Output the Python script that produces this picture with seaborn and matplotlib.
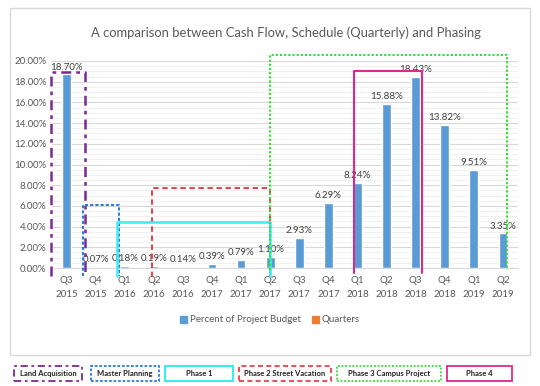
"""
Cash Flow / Schedule / Phasing 柱状图
"""
import matplotlib
matplotlib.use("Agg")
import matplotlib.pyplot as plt
import seaborn as sns
import pandas as pd
from matplotlib.patches import Patch, Rectangle
from matplotlib.ticker import MultipleLocator, FuncFormatter

# 数据
quarters = ["Q3\n2015", "Q4\n2015", "Q1\n2016", "Q2\n2016", "Q3\n2016", "Q4\n2017",
            "Q1\n2017", "Q2\n2017", "Q3\n2017", "Q4\n2017", "Q1\n2018", "Q2\n2018",
            "Q3\n2018", "Q4\n2018", "Q1\n2019", "Q2\n2019"]
percent_budget = [18.70, 0.07, 0.18, 0.19, 0.14, 0.39, 0.79, 1.10, 2.93, 6.29,
                  8.24, 15.88, 18.43, 13.82, 9.51, 3.35]
phase_names = ["Land Acquisition", "Master Planning", "Phase 1",
               "Phase 2 Street Vacation", "Phase 3 Campus Project", "Phase 4"]

# 阶段框样式: (x0, x1, top, bottom, color, linestyle, lw)
phase_boxes = [
    (-0.52, 0.62, 18.94, -0.8, "#7B2A93", (0, (4, 2, 1.5, 2)), 1.8),
    (0.58, 1.79, 6.06, -0.8, "#2E7BD6", (0, (1.5, 1)), 1.5),
    (2.92, 6.98, 7.69, -0.9, "#E8303A", (0, (3, 2)), 1.3),
    (1.75, 6.98, 4.42, -0.8, "#3DEDF0", "-", 1.8),
    (6.98, 15.14, 20.58, -0.2, "#33DD33", (0, (1, 1)), 1.5),
    (9.87, 12.21, 19.04, -0.5, "#E0288C", "-", 1.5),
]
# 底部图例框: (x0_px, x1_px, color, linestyle, lw)
legend_boxes = [
    (14, 82, "#7B2A93", (0, (4, 2, 1.5, 2)), 1.3),
    (91, 159, "#2E7BD6", (0, (1.5, 1)), 1.3),
    (165, 233, "#3DEDF0", "-", 1.5),
    (239, 331, "#E8303A", (0, (3, 2)), 1.2),
    (337, 441, "#33DD33", (0, (1, 1)), 1.3),
    (447, 512, "#E0288C", "-", 1.3),
]

W, H = 540, 386
sns.set_style("white")
plt.rcParams["font.family"] = ["Lato", "DejaVu Sans"]

fig = plt.figure(figsize=(W / 100, H / 100), dpi=100)
ax = fig.add_axes([52 / W, 1 - 268 / H, 465.5 / W, 207 / H])

# 季度标签有重复 (Q4 2017)，用序号作为类别
df = pd.DataFrame({"idx": range(len(quarters)), "Percent": percent_budget})
sns.barplot(data=df, x="idx", y="Percent", color="#5B9BD5", width=0.3,
            saturation=1, ax=ax, zorder=3)

ax.bar_label(ax.containers[0], labels=[f"{v:.2f}%" for v in percent_budget],
             padding=2, fontsize=7, color="#404040")

ax.set_xticks(range(len(quarters)))
ax.set_xticklabels(quarters, linespacing=1.7)
ax.set_xlim(-0.5, 15.5)
ax.set_ylim(0, 20)
ax.yaxis.set_major_locator(MultipleLocator(2))
ax.yaxis.set_minor_locator(MultipleLocator(0.5))
ax.yaxis.set_major_formatter(FuncFormatter(lambda v, p: f"{v:.2f}%"))
ax.grid(axis="y", which="major", color="#D9D9D9", lw=0.8, zorder=0)
ax.grid(axis="y", which="minor", color="#EFEFEF", lw=0.6, zorder=0)
ax.set_axisbelow(True)
ax.tick_params(axis="both", which="both", length=0, labelsize=7,
               labelcolor="#595959", pad=4)
ax.tick_params(axis="x", pad=6)
ax.set_xlabel("")
ax.set_ylabel("")
for s in ["left", "right", "top"]:
    ax.spines[s].set_visible(False)
ax.spines["bottom"].set_color("#D9D9D9")

# 阶段框
for x0, x1, top, bot, c, ls, lw in phase_boxes:
    ax.plot([x0, x0, x1, x1], [bot, top, top, bot], color=c, ls=ls, lw=lw,
            clip_on=False, zorder=4)

# 标题
fig.text(286 / W, 1 - 33 / H,
         "A comparison between Cash Flow, Schedule (Quarterly) and Phasing",
         ha="center", va="center", fontsize=9.4, color="#595959")

# 图例
handles = [Patch(color="#5B9BD5", label="Percent of Project Budget"),
           Patch(color="#ED7D31", label="Quarters")]
fig.legend(handles=handles, loc="center", bbox_to_anchor=(0.5, 1 - 320 / H),
           ncol=2, frameon=False, fontsize=7, handlelength=0.7, handleheight=0.7,
           handletextpad=0.3, columnspacing=1.2, labelcolor="#595959")

# 图表区边框
fig.patches.append(Rectangle((10 / W, 1 - 355 / H), 520 / W, 347 / H,
                             transform=fig.transFigure, fill=False,
                             ec="#D9D9D9", lw=1))

# 底部阶段说明框
for (x0, x1, c, ls, lw), name in zip(legend_boxes, phase_names):
    fig.patches.append(Rectangle((x0 / W, 1 - 381 / H), (x1 - x0) / W, 15 / H,
                                 transform=fig.transFigure, fill=False,
                                 ec=c, ls=ls, lw=lw))
    fig.text((x0 + x1) / 2 / W, 1 - 373.5 / H, name, ha="center", va="center",
             fontsize=5.5, fontweight="bold", color="#222222")

fig.savefig("out.png", dpi=100)
